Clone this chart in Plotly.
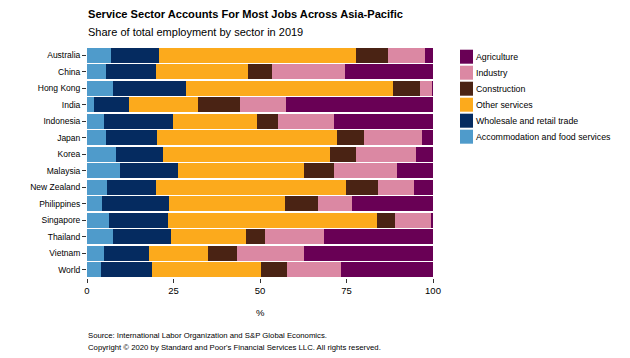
import plotly.graph_objects as go

countries = ["Australia", "China", "Hong Kong", "India", "Indonesia", "Japan", "Korea",
             "Malaysia", "New Zealand", "Philippines", "Singapore", "Thailand", "Vietnam", "World"]

accommodation = [6.9, 5.4, 7.6, 1.9, 5.0, 5.6, 8.4, 9.4, 5.7, 4.2, 6.5, 7.6, 4.8, 4.1]
wholesale = [13.8, 14.6, 20.9, 10.3, 19.9, 14.6, 13.7, 16.9, 14.2, 19.6, 16.8, 16.8, 13.0, 14.7]
other_services = [57.0, 26.5, 59.9, 19.9, 24.1, 52.1, 48.0, 36.4, 55.0, 33.4, 60.6, 21.5, 17.3, 31.4]
construction = [9.3, 6.9, 7.8, 12.2, 6.2, 7.8, 7.7, 8.6, 9.1, 9.7, 5.0, 5.4, 8.3, 7.7]
industry = [10.6, 21.2, 3.6, 13.3, 16.2, 16.6, 17.4, 18.4, 10.5, 9.7, 10.5, 17.2, 19.3, 15.4]
agriculture = [2.4, 25.4, 0.2, 42.4, 28.6, 3.3, 4.8, 10.3, 5.5, 23.4, 0.6, 31.5, 37.3, 26.7]

series = [
    ("Accommodation and food services", accommodation, "#4F9BCB"),
    ("Wholesale and retail trade", wholesale, "#052B60"),
    ("Other services", other_services, "#FCAA1C"),
    ("Construction", construction, "#4A2314"),
    ("Industry", industry, "#DB88A3"),
    ("Agriculture", agriculture, "#690055"),
]

x_ticks = [0, 25, 50, 75, 100]

FONT = "Liberation Sans, Arial, sans-serif"
OFF = 8  # default page margin of the html body
W, H = 630 - OFF, 358 - OFF
PLOT_L, PLOT_R, PLOT_T, PLOT_B = 87, 433, 47, 278  # page pixel positions
L, R, T, B = PLOT_L - OFF, W - (PLOT_R - OFF), PLOT_T - OFF, H - (PLOT_B - OFF)
PW, PH = PLOT_R - PLOT_L, PLOT_B - PLOT_T


def px_x(x):
    return (x - PLOT_L) / PW


def px_y(y):
    return (PLOT_B - y) / PH


fig = go.Figure()
for name, vals, col in series:
    fig.add_trace(go.Bar(
        y=countries, x=vals, name=name, orientation="h",
        marker=dict(color=col, line=dict(width=0)),
        showlegend=False,
    ))

# custom legend (top entry = last stacked series)
for i, (name, vals, col) in enumerate(reversed(series)):
    cy = 56.7 + 16 * i
    fig.add_shape(type="rect", xref="paper", yref="paper",
                  x0=px_x(460), x1=px_x(473), y0=px_y(cy - 7), y1=px_y(cy + 7),
                  fillcolor=col, line=dict(width=0))
    fig.add_annotation(xref="paper", yref="paper", x=px_x(474), y=px_y(cy),
                       text=name, showarrow=False, xanchor="left", yanchor="middle",
                       font=dict(size=8.8, color="#000", family=FONT))

fig.add_annotation(xref="paper", yref="paper", x=px_x(86), y=px_y(14.5),
                   text="<b>Service Sector Accounts For Most Jobs Across Asia-Pacific</b>",
                   showarrow=False, xanchor="left", yanchor="middle",
                   font=dict(size=11.1, color="#000", family=FONT))
fig.add_annotation(xref="paper", yref="paper", x=px_x(86), y=px_y(32.5),
                   text="Share of total employment by sector in 2019",
                   showarrow=False, xanchor="left", yanchor="middle",
                   font=dict(size=11, color="#000", family=FONT))
fig.add_annotation(xref="paper", yref="paper", x=px_x(86), y=px_y(335),
                   text="Source: International Labor Organization and S&P Global Economics.",
                   showarrow=False, xanchor="left", yanchor="middle",
                   font=dict(size=7.75, color="#000", family=FONT))
fig.add_annotation(xref="paper", yref="paper", x=px_x(86), y=px_y(347),
                   text="Copyright © 2020 by Standard and Poor's Financial Services LLC. All rights reserved.",
                   showarrow=False, xanchor="left", yanchor="middle",
                   font=dict(size=7.75, color="#000", family=FONT))
fig.add_annotation(xref="paper", yref="paper", x=px_x(260), y=px_y(312),
                   text="%", showarrow=False, xanchor="center", yanchor="middle",
                   font=dict(size=9.5, color="#000", family=FONT))

fig.update_layout(
    barmode="stack",
    bargap=0.09,
    width=W, height=H,
    margin=dict(l=L, r=R, t=T, b=B, pad=0),
    plot_bgcolor="white", paper_bgcolor="white",
    font=dict(family=FONT, size=9, color="#000"),
)
fig.update_xaxes(range=[0, 100], tickvals=x_ticks, ticks="outside", ticklen=4,
                 tickcolor="#333", showgrid=False, zeroline=False, showline=False,
                 tickfont=dict(size=9.5, color="#000"))
fig.update_yaxes(autorange="reversed", ticks="outside", ticklen=4, tickcolor="#333",
                 showgrid=False, zeroline=False, showline=False,
                 tickfont=dict(size=8.5, color="#000"))

fig.write_html("out.html")
